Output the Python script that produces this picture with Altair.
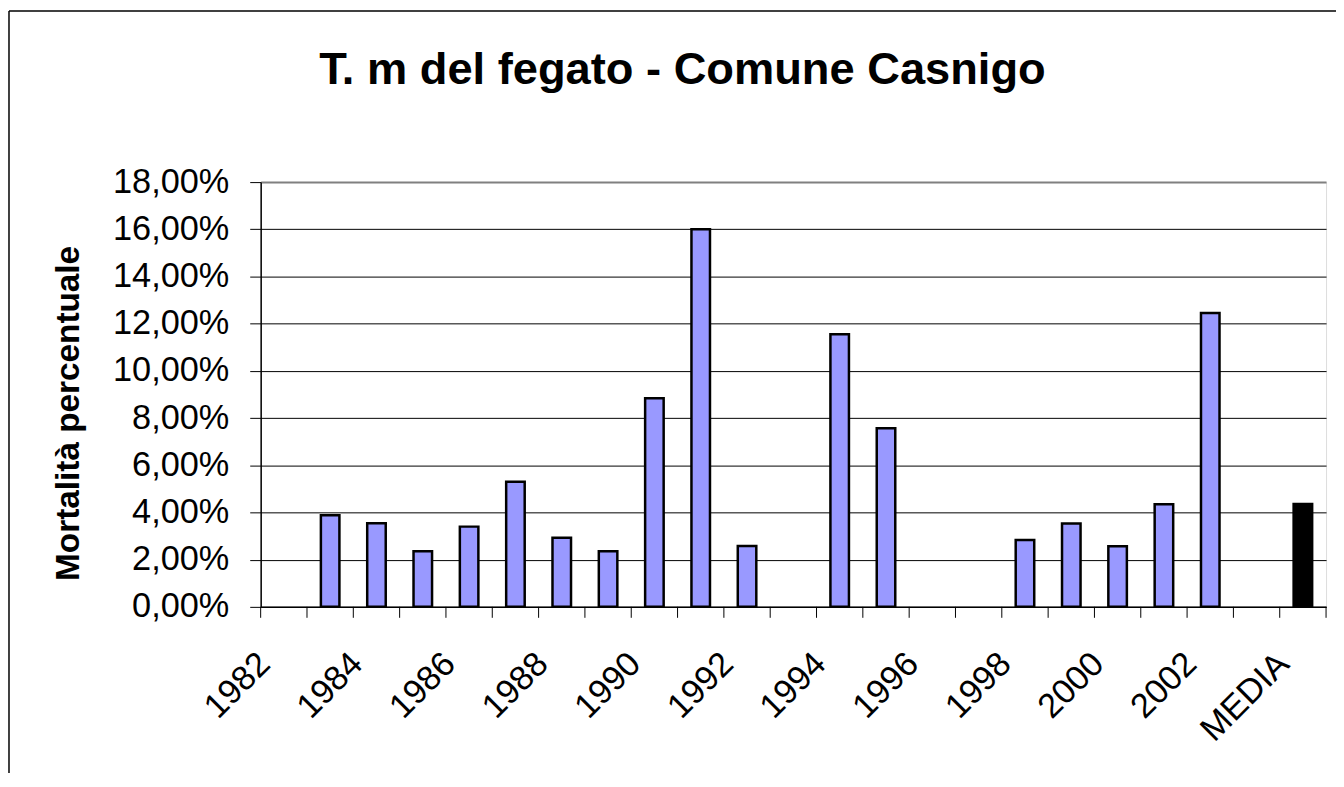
import altair as alt
import pandas as pd

# ---- data ----
anni = ['1982', '1983', '1984', '1985', '1986', '1987', '1988', '1989', '1990',
        '1991', '1992', '1993', '1994', '1995', '1996', '1997', '1998', '1999',
        '2000', '2001', '2002', '2003', 'MEDIA']
mortalita = [None, 0.0388, 0.0354, 0.0236, 0.0340, 0.0530, 0.0293, 0.0236, 0.0884,
             0.1600, 0.0258, None, 0.1155, 0.0757, None, None, 0.0283, 0.0353,
             0.0257, 0.0435, 0.1245, None, 0.0436]
tipo = ['anno'] * 22 + ['media']
etichette_x = ['1982', '1984', '1986', '1988', '1990', '1992', '1994', '1996',
               '1998', '2000', '2002', 'MEDIA']
tick_y = [0.0, 0.02, 0.04, 0.06, 0.08, 0.10, 0.12, 0.14, 0.16, 0.18]
titolo = 'T. m  del fegato - Comune Casnigo'
titolo_y = 'Mortalità percentuale'

df = pd.DataFrame({'anno': anni, 'mortalita': mortalita, 'tipo': tipo})

W, H = 1071, 427
FONT = 'Liberation Sans'

x_bar = alt.X(
    'anno:N', sort=anni,
    scale=alt.Scale(domain=anni, paddingInner=0.6, paddingOuter=0.3),
    axis=alt.Axis(values=etichette_x, labelAngle=-45, labelAlign='right',
                  labelBaseline='middle', labelFontSize=34.5, labelFont=FONT,
                  labelColor='black', labelPadding=52, labelOffset=-19,
                  labelOverlap=False, ticks=False, tickSize=0,
                  domainColor='black', domainWidth=1.5, grid=False, title=None),
)

y_bar = alt.Y(
    'mortalita:Q',
    scale=alt.Scale(domain=[0, 0.18], nice=False, zero=True),
    axis=alt.Axis(values=tick_y,
                  labelExpr="replace(format(datum.value, '.2%'), '.', ',')",
                  labelFontSize=34.5, labelFont=FONT, labelColor='black',
                  tickSize=11, tickColor='black', labelPadding=21,
                  domainColor='black', domainWidth=1.5,
                  grid=True,
                  gridColor={'condition': {'test': 'datum.value >= 0.179',
                                           'value': '#808080'},
                             'value': 'black'},
                  gridWidth={'condition': {'test': 'datum.value >= 0.179',
                                           'value': 2},
                             'value': 1},
                  title=titolo_y, titleFont=FONT, titleFontSize=33.5,
                  titleFontWeight='bold', titleColor='black', titleAngle=270,
                  titleBaseline='alphabetic', titleAlign='center',
                  titleX=-183, titleY=232),
)

bars = alt.Chart(df).mark_bar(stroke='black', strokeWidth=2.5).encode(
    x=x_bar,
    y=y_bar,
    color=alt.Color('tipo:N',
                    scale=alt.Scale(domain=['anno', 'media'],
                                    range=['#9999FF', '#000000']),
                    legend=None),
)

x_tick = alt.X('anno:N', sort=anni,
               scale=alt.Scale(domain=anni, paddingInner=0, paddingOuter=0),
               bandPosition=0, axis=None)
ticks = alt.Chart(df).mark_rule(color='black', strokeWidth=1).encode(
    x=x_tick, y=alt.value(H), y2=alt.value(H + 11))

x_tick_end = alt.X('anno:N', sort=anni,
                   scale=alt.Scale(domain=anni, paddingInner=0, paddingOuter=0),
                   bandPosition=1, axis=None)
tick_end = alt.Chart(df).transform_filter(alt.datum.anno == 'MEDIA').mark_rule(
    color='black', strokeWidth=1).encode(
    x=x_tick_end, y=alt.value(H), y2=alt.value(H + 11))

frame_df = pd.DataFrame({'k': [0]})
frame_left = alt.Chart(frame_df).mark_rule(color='black', strokeWidth=1.5).encode(
    x=alt.value(-253), y=alt.value(-172), y2=alt.value(620))
frame_top = alt.Chart(frame_df).mark_rule(color='black', strokeWidth=1.5).encode(
    x=alt.value(-253), x2=alt.value(1100), y=alt.value(-172))

title_mark = alt.Chart(frame_df).mark_text(
    text=titolo, font=FONT, fontSize=45.5, fontWeight='bold', color='black',
    align='center', baseline='alphabetic'
).encode(x=alt.value(424), y=alt.value(-99))

chart = alt.layer(bars, ticks, tick_end, frame_left, frame_top, title_mark).resolve_scale(
    x='independent'
).properties(
    width=W, height=H,
    padding={'left': 254, 'top': 173, 'right': 10, 'bottom': 165},
    autosize=alt.AutoSizeParams(type='none'),
).configure_view(
    stroke='#808080', strokeWidth=2
).configure(background='white')

chart.save('out.html', embed_options={'renderer': 'svg', 'actions': False})
